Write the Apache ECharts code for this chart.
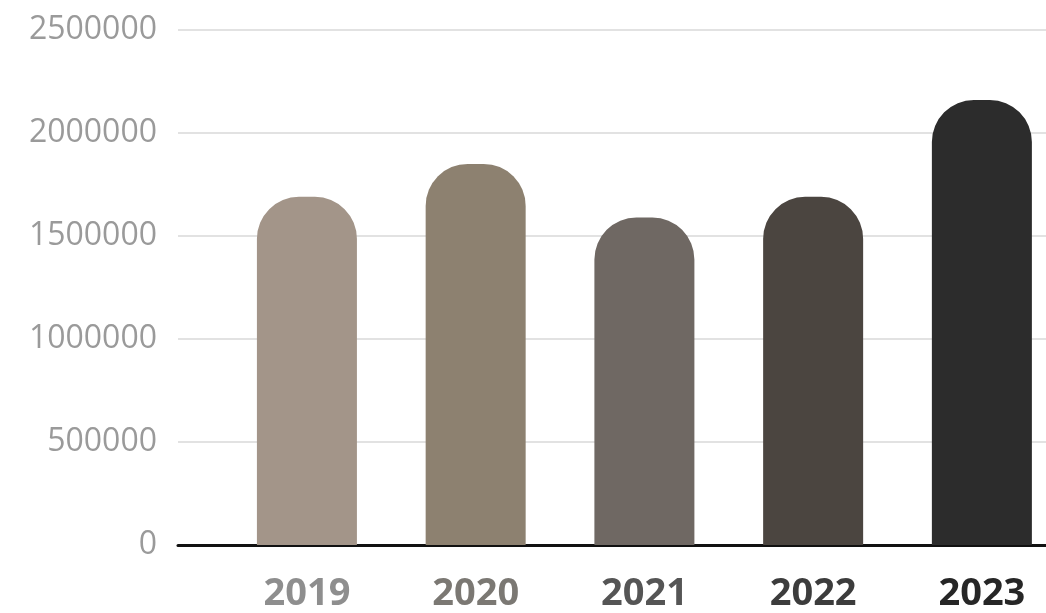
<!DOCTYPE html>
<html>
<head>
<meta charset="utf-8">
<script src="https://cdn.jsdelivr.net/npm/echarts@6/dist/echarts.min.js"></script>
<style>
  html, body { margin: 0; padding: 0; background: #fff; }
  #chart { width: 1046px; height: 613px; }
</style>
</head>
<body>
<div id="chart"></div>
<script>
// data
const years = ['2019', '2020', '2021', '2022', '2023']
const amounts = [1690000, 1850000, 1590000, 1690000, 2160000]
const yTicks = [0, 500000, 1000000, 1500000, 2000000, 2500000]

// styles
const barColors = ['#a39589', '#8d8170', '#6f6863', '#4b4540', '#2c2c2c']
const labelColors = ['#8e8e8e', '#7b7873', '#555555', '#3c3c3c', '#262626']

const chart = echarts.init(document.getElementById('chart'))

const rich = {}
labelColors.forEach((c, i) => {
  rich['c' + i] = {
    color: c,
    fontSize: 38,
    fontWeight: 'bold',
    fontFamily: 'Open Sans',
  }
})

chart.setOption({
  animation: false,
  grid: {
    left: 178,
    right: 0,
    top: 30,
    bottom: 66,
  },
  xAxis: {
    type: 'value',
    min: -0.764,
    max: 4.38,
    splitLine: { show: false },
    axisTick: { show: false },
    axisLine: {
      show: true,
      onZero: false,
      lineStyle: { color: '#111', width: 3 },
    },
    axisLabel: {
      customValues: years.map((y, i) => i),
      margin: 30,
      formatter: (v) => {
        const i = Math.round(v)
        return '{c' + i + '|' + years[i] + '}'
      },
      rich,
    },
  },
  yAxis: {
    type: 'value',
    min: yTicks[0],
    max: yTicks[yTicks.length - 1],
    interval: 500000,
    axisLine: { show: false },
    axisTick: { show: false },
    axisLabel: {
      margin: 21,
      color: '#9a9a9a',
      fontSize: 32,
      fontFamily: 'Open Sans',
      formatter: (v) => String(v),
    },
    splitLine: {
      lineStyle: { color: '#e2e2e2', width: 2 },
    },
  },
  series: [
    {
      type: 'bar',
      barWidth: 100,
      data: years.map((y, i) => ({
        value: [i, amounts[i]],
        itemStyle: {
          color: barColors[i],
          borderRadius: [42, 42, 0, 0],
        },
      })),
    },
  ],
})
</script>
</body>
</html>
